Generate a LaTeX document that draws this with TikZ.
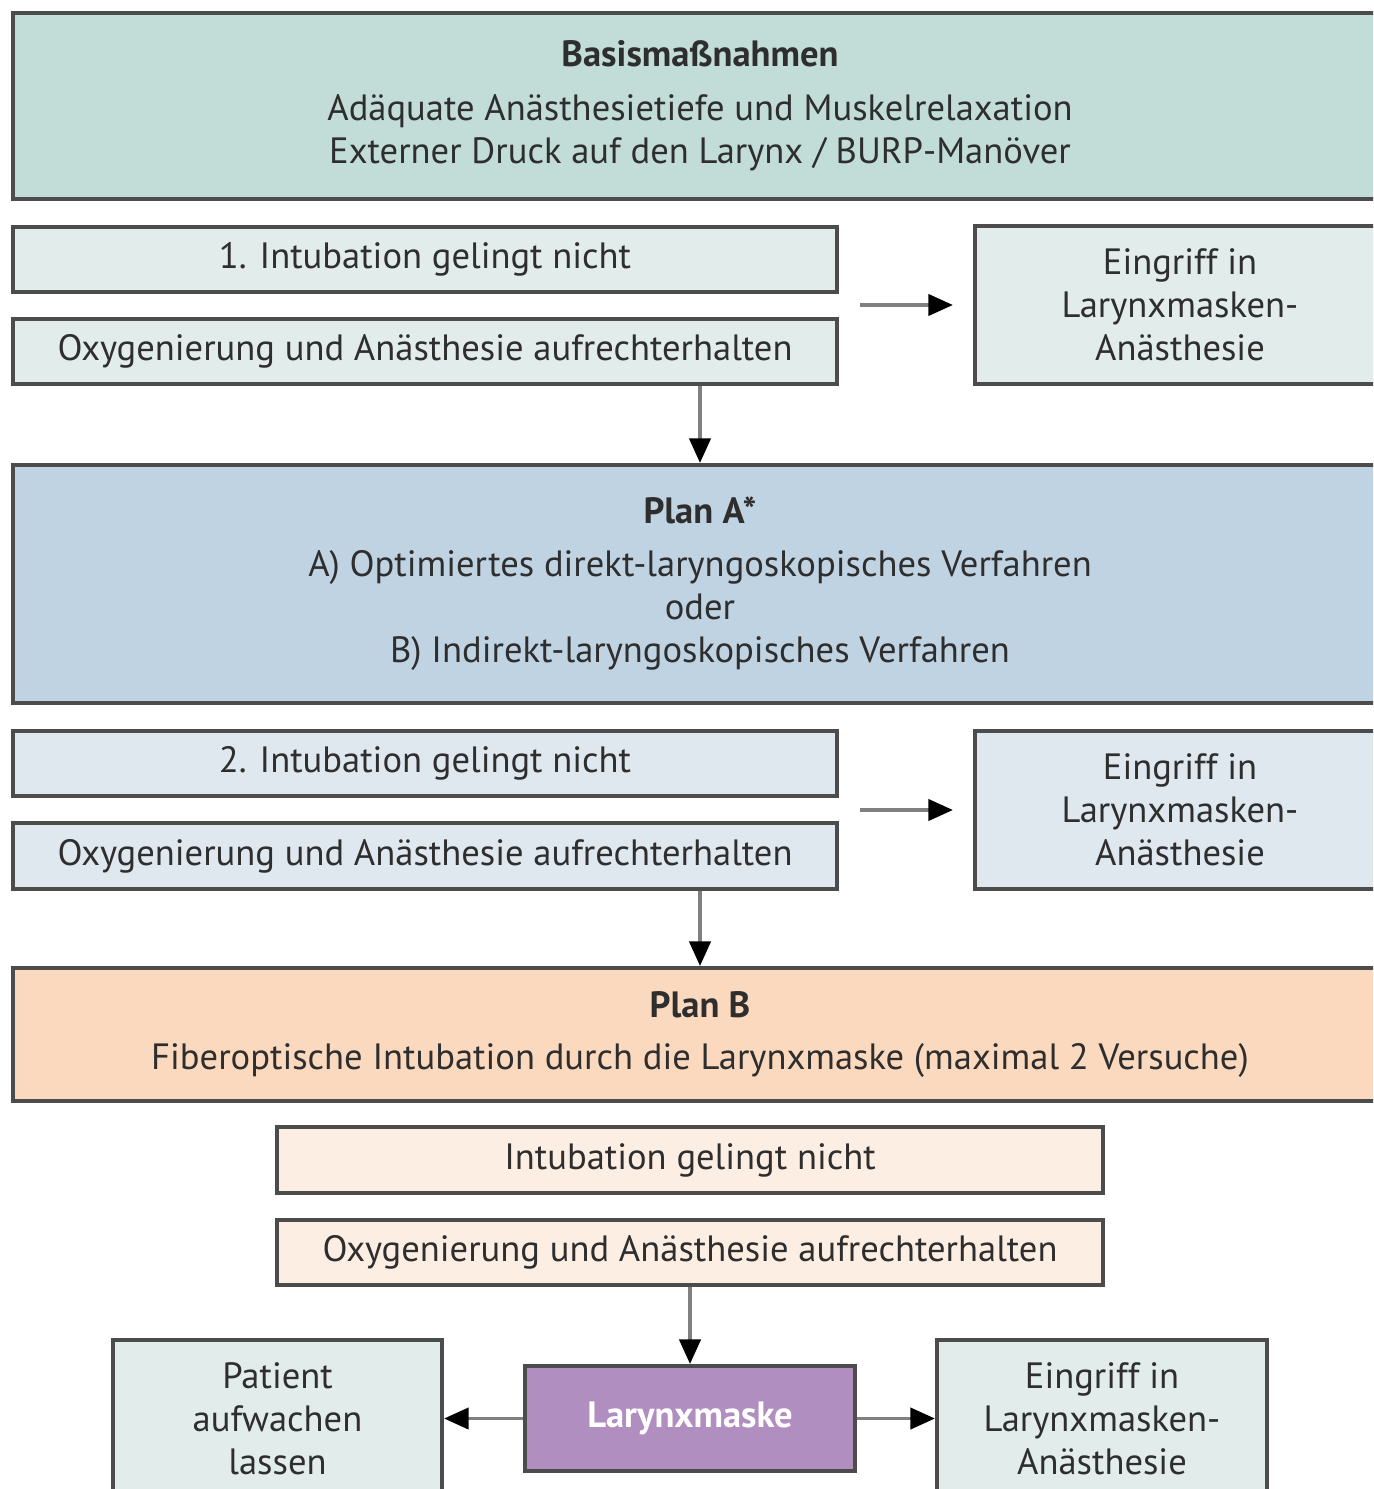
\documentclass[tikz,border=0pt]{standalone}
\usepackage{fontspec}
\setmainfont{PT Sans}
\usepackage{tikz}
\usetikzlibrary{arrows.meta,positioning}
\definecolor{basisgreen}{HTML}{C2DDD8}
\definecolor{lightgreen}{HTML}{E2ECEB}
\definecolor{planablue}{HTML}{C0D3E2}
\definecolor{lightblue}{HTML}{DFE7EF}
\definecolor{planbpeach}{HTML}{FBD9BE}
\definecolor{lightpeach}{HTML}{FDEEE3}
\definecolor{maskpurple}{HTML}{B08EC0}
\definecolor{textgrey}{HTML}{2E2E2E}

\begin{document}
\begin{tikzpicture}[x=0.01cm, y=-0.01cm,
    box/.style={rectangle, draw=black!70, line width=1.1pt, text=textgrey, align=center, inner sep=0pt, font=\fontsize{10.4}{12.2}\selectfont},
    arr/.style={draw=black!50, line width=1.1pt, -{Triangle[color=black, length=7pt, width=6pt]}}]
    \def\wide{13.74cm}
    \def\half{8.24cm}
    \def\side{4.10cm}
    \useasboundingbox (0,0) rectangle (1373,1489);
    \clip (0,0) rectangle (1373,1489);

    % basis
    \node (basis) [box, fill=basisgreen, minimum width=\wide, minimum height=1.86cm] at (700,106) {\textbf{Basismaßnahmen}\\[0.11cm] Adäquate Anästhesietiefe und Muskelrelaxation\\ Externer Druck auf den Larynx / BURP-Manöver};

    \node (fail1) [box, fill=lightgreen, minimum width=\half, minimum height=0.65cm] at (425,259.5) {1. Intubation gelingt nicht};
    \node (oxy1) [box, fill=lightgreen, minimum width=\half, minimum height=0.65cm] at (425,351.5) {Oxygenierung und Anästhesie aufrechterhalten};
    \node (lma1) [box, fill=lightgreen, minimum width=\side, minimum height=1.58cm] at (1180,305) {Eingriff in\\ Larynxmasken-\\ Anästhesie};

    % plan A
    \node (plana) [box, fill=planablue, minimum width=\wide, minimum height=2.38cm] at (700,584) {\textbf{Plan A*}\\[0.1cm] A) Optimiertes direkt-laryngoskopisches Verfahren\\ oder\\ B) Indirekt-laryngoskopisches Verfahren};

    \node (fail2) [box, fill=lightblue, minimum width=\half, minimum height=0.65cm] at (425,763.5) {2. Intubation gelingt nicht};
    \node (oxy2) [box, fill=lightblue, minimum width=\half, minimum height=0.66cm] at (425,856) {Oxygenierung und Anästhesie aufrechterhalten};
    \node (lma2) [box, fill=lightblue, minimum width=\side, minimum height=1.58cm] at (1180,810) {Eingriff in\\ Larynxmasken-\\ Anästhesie};

    % plan B
    \node (planb) [box, fill=planbpeach, minimum width=\wide, minimum height=1.33cm] at (700,1034.5) {\textbf{Plan B}\\[0.1cm] Fiberoptische Intubation durch die Larynxmaske (maximal 2 Versuche)};

    \node (fail3) [box, fill=lightpeach, minimum width=8.25cm, minimum height=0.66cm] at (690,1160) {Intubation gelingt nicht};
    \node (oxy3) [box, fill=lightpeach, minimum width=8.25cm, minimum height=0.65cm] at (690,1252.5) {Oxygenierung und Anästhesie aufrechterhalten};

    \node (lmask) [box, fill=maskpurple, text=white, minimum width=3.30cm, minimum height=1.05cm] at (690,1418.5) {\textbf{Larynxmaske}};
    \node (patient) [box, fill=lightgreen, minimum width=3.29cm, minimum height=1.57cm] at (277.5,1418.5) {Patient\\ aufwachen\\ lassen};
    \node (lma3) [box, fill=lightgreen, minimum width=3.30cm, minimum height=1.57cm] at (1102,1418.5) {Eingriff in\\ Larynxmasken-\\ Anästhesie};

    \draw[arr, shorten <=0.21cm, shorten >=0.2cm] (oxy1.east |- lma1.west) -- (lma1.west);
    \draw[arr] (oxy1.south -| plana.north) -- (plana.north);
    \draw[arr, shorten <=0.21cm, shorten >=0.2cm] (oxy2.east |- lma2.west) -- (lma2.west);
    \draw[arr] (oxy2.south -| planb.north) -- (planb.north);
    \draw[arr] (oxy3.south -| lmask.north) -- (lmask.north);
    \draw[arr] (lmask.west) -- (patient.east);
    \draw[arr] (lmask.east) -- (lma3.west);
\end{tikzpicture}
\end{document}
